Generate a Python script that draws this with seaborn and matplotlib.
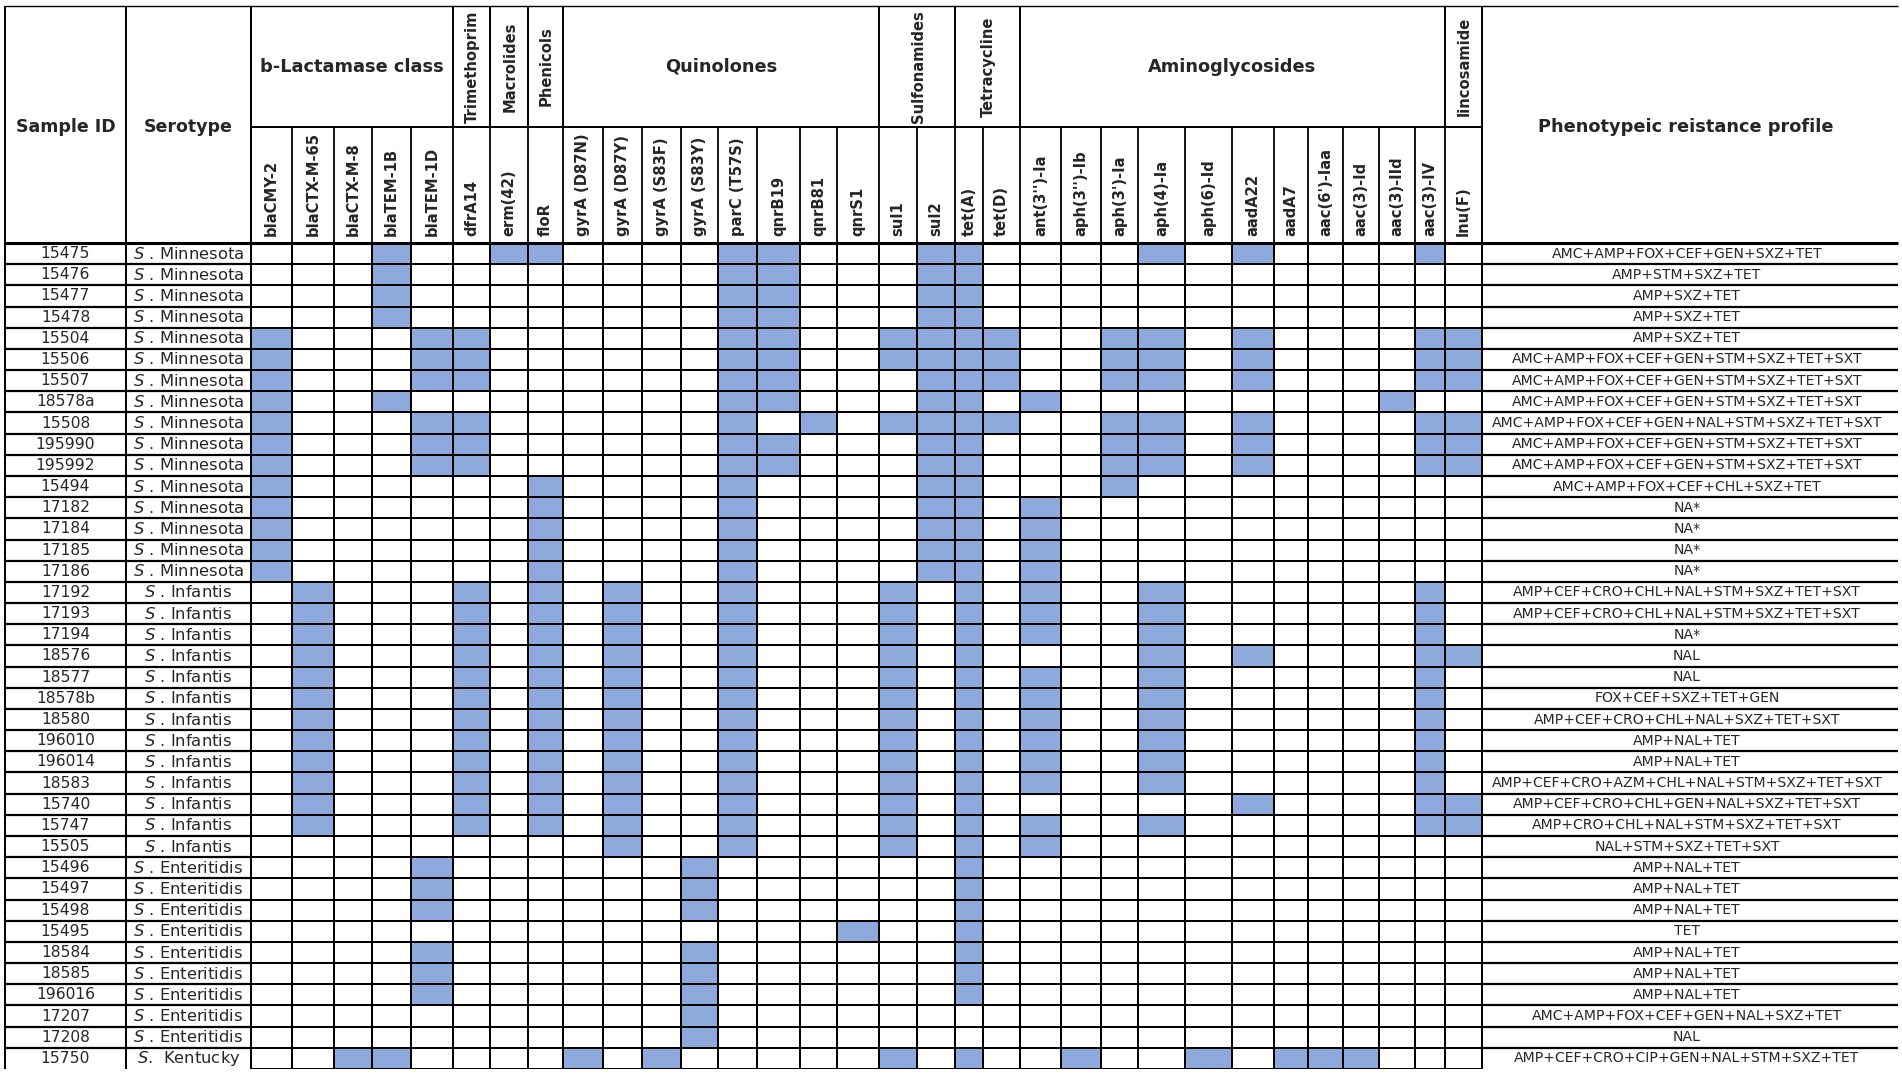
import numpy as np
import pandas as pd
import seaborn as sns
import matplotlib.pyplot as plt
from matplotlib.colors import ListedColormap

sns.set_style("white")
plt.rcParams["font.family"] = ["DejaVu Sans"]

# ---- data ----
sample_ids = ["15475", "15476", "15477", "15478", "15504", "15506", "15507", "18578a",
              "15508", "195990", "195992", "15494", "17182", "17184", "17185", "17186",
              "17192", "17193", "17194", "18576", "18577", "18578b", "18580", "196010",
              "196014", "18583", "15740", "15747", "15505",
              "15496", "15497", "15498", "15495", "18584", "18585", "196016", "17207", "17208",
              "15750"]
serotypes = ["Minnesota"] * 16 + ["Infantis"] * 13 + ["Enteritidis"] * 9 + ["Kentucky"]

genes = ["blaCMY-2", "blaCTX-M-65", "blaCTX-M-8", "blaTEM-1B", "blaTEM-1D", "dfrA14",
         "erm(42)", "floR", "gyrA (D87N)", "gyrA (D87Y)", "gyrA (S83F)", "gyrA (S83Y)",
         "parC (T57S)", "qnrB19", "qnrB81", "qnrS1", "sul1", "sul2", "tet(A)", "tet(D)",
         "ant(3'')-Ia", "aph(3'')-Ib", "aph(3')-Ia", "aph(4)-Ia", "aph(6)-Id", "aadA22",
         "aadA7", "aac(6')-Iaa", "aac(3)-Id", "aac(3)-IId", "aac(3)-IV", "lnu(F)"]

# gene classes: (label, first gene index, last gene index)
gene_classes = [("b-Lactamase class", 0, 4), ("Trimethoprim", 5, 5), ("Macrolides", 6, 6),
                ("Phenicols", 7, 7), ("Quinolones", 8, 15), ("Sulfonamides", 16, 17),
                ("Tetracycline", 18, 19), ("Aminoglycosides", 20, 30), ("lincosamide", 31, 31)]

# genes detected per sample
minn_a = ["blaTEM-1B", "parC (T57S)", "qnrB19", "sul2", "tet(A)"]
minn_b = ["blaCMY-2", "blaTEM-1D", "dfrA14", "parC (T57S)", "qnrB19", "sul1", "sul2", "tet(A)",
          "tet(D)", "aph(3')-Ia", "aph(4)-Ia", "aadA22", "aac(3)-IV", "lnu(F)"]
minn_c = ["blaCMY-2", "floR", "parC (T57S)", "sul2", "tet(A)", "ant(3'')-Ia"]
inf_a = ["blaCTX-M-65", "dfrA14", "floR", "gyrA (D87Y)", "parC (T57S)", "sul1", "tet(A)",
         "ant(3'')-Ia", "aph(4)-Ia", "aac(3)-IV"]
ent_a = ["blaTEM-1D", "gyrA (S83Y)", "tet(A)"]

detected = [
    ["blaTEM-1B", "erm(42)", "floR", "parC (T57S)", "qnrB19", "sul2", "tet(A)", "aph(4)-Ia",
     "aadA22", "aac(3)-IV"],
    minn_a, minn_a, minn_a,
    minn_b, minn_b,
    [g for g in minn_b if g != "sul1"],
    ["blaCMY-2", "blaTEM-1B", "parC (T57S)", "qnrB19", "sul2", "tet(A)", "ant(3'')-Ia", "aac(3)-IId"],
    [g if g != "qnrB19" else "qnrB81" for g in minn_b],
    [g for g in minn_b if g not in ("sul1", "tet(D)")],
    [g for g in minn_b if g not in ("sul1", "tet(D)")],
    ["blaCMY-2", "floR", "parC (T57S)", "sul2", "tet(A)", "aph(3')-Ia"],
    minn_c, minn_c, minn_c, minn_c,
    inf_a, inf_a, inf_a,
    [g for g in inf_a if g != "ant(3'')-Ia"] + ["aadA22", "lnu(F)"],
    inf_a, inf_a, inf_a, inf_a, inf_a, inf_a,
    [g for g in inf_a if g not in ("ant(3'')-Ia", "aph(4)-Ia")] + ["aadA22", "lnu(F)"],
    inf_a + ["lnu(F)"],
    ["gyrA (D87Y)", "parC (T57S)", "sul1", "tet(A)", "ant(3'')-Ia"],
    ent_a, ent_a, ent_a,
    ["qnrS1", "tet(A)"],
    ent_a, ent_a, ent_a,
    ["gyrA (S83Y)"], ["gyrA (S83Y)"],
    ["blaCTX-M-8", "blaTEM-1B", "gyrA (D87N)", "gyrA (S83F)", "sul1", "tet(A)", "aph(3'')-Ib",
     "aph(6)-Id", "aadA7", "aac(6')-Iaa", "aac(3)-Id"],
]

profiles = [
    "AMC+AMP+FOX+CEF+GEN+SXZ+TET", "AMP+STM+SXZ+TET", "AMP+SXZ+TET", "AMP+SXZ+TET", "AMP+SXZ+TET",
    "AMC+AMP+FOX+CEF+GEN+STM+SXZ+TET+SXT", "AMC+AMP+FOX+CEF+GEN+STM+SXZ+TET+SXT",
    "AMC+AMP+FOX+CEF+GEN+STM+SXZ+TET+SXT", "AMC+AMP+FOX+CEF+GEN+NAL+STM+SXZ+TET+SXT",
    "AMC+AMP+FOX+CEF+GEN+STM+SXZ+TET+SXT", "AMC+AMP+FOX+CEF+GEN+STM+SXZ+TET+SXT",
    "AMC+AMP+FOX+CEF+CHL+SXZ+TET", "NA*", "NA*", "NA*", "NA*",
    "AMP+CEF+CRO+CHL+NAL+STM+SXZ+TET+SXT", "AMP+CEF+CRO+CHL+NAL+STM+SXZ+TET+SXT", "NA*",
    "NAL", "NAL", "FOX+CEF+SXZ+TET+GEN", "AMP+CEF+CRO+CHL+NAL+SXZ+TET+SXT", "AMP+NAL+TET",
    "AMP+NAL+TET", "AMP+CEF+CRO+AZM+CHL+NAL+STM+SXZ+TET+SXT",
    "AMP+CEF+CRO+CHL+GEN+NAL+SXZ+TET+SXT", "AMP+CRO+CHL+NAL+STM+SXZ+TET+SXT",
    "NAL+STM+SXZ+TET+SXT", "AMP+NAL+TET", "AMP+NAL+TET", "AMP+NAL+TET", "TET",
    "AMP+NAL+TET", "AMP+NAL+TET", "AMP+NAL+TET", "AMC+AMP+FOX+CEF+GEN+NAL+SXZ+TET", "NAL",
    "AMP+CEF+CRO+CIP+GEN+NAL+STM+SXZ+TET",
]

presence = pd.DataFrame(0, index=sample_ids, columns=genes)
for sid, found in zip(sample_ids, detected):
    presence.loc[sid, found] = 1

# ---- layout (pixels) ----
W, H = 1902, 1074
x_left, x_id, x_sero = 5, 126, 251
x_prof, x_right = 1482, 1898
col_edges = [251, 292, 334, 372, 411, 453, 490, 528, 563, 603, 642, 681, 718, 757, 800, 837,
             879, 917, 955, 983, 1020, 1061, 1101, 1138, 1185, 1232, 1274, 1308, 1343, 1379,
             1415, 1445, 1482]
y_top, y_mid, y_head = 6, 127, 243
y_bot = 1069
row_h = (y_bot - y_head) / len(sample_ids)

edges = np.array(col_edges, dtype=float)
idx = np.arange(len(edges), dtype=float)
edges_ext = np.r_[edges[0] - 1e4, edges, edges[-1] + 1e4]
idx_ext = np.r_[-1e4 / (edges[1] - edges[0]), idx, idx[-1] + 1e4 / (edges[-1] - edges[-2])]


def to_px(v):
    return np.interp(v, idx_ext, edges_ext)


def from_px(p):
    return np.interp(p, edges_ext, idx_ext)


fig = plt.figure(figsize=(W / 100, H / 100), dpi=100)
ax = fig.add_axes([x_sero / W, (H - y_bot) / H, (x_prof - x_sero) / W, (y_bot - y_head) / H])
sns.heatmap(presence, ax=ax, cmap=ListedColormap(["white", "#8EA9DB"]), vmin=0, vmax=1,
            cbar=False, linewidths=1.4, linecolor="black", xticklabels=False, yticklabels=False)
ax.set_xscale("function", functions=(to_px, from_px))
ax.set_xlim(0, len(genes))
ax.set_ylim(len(sample_ids), 0)
ax.set_xticks([])
ax.set_yticks([])
ax.set_xlabel("")
ax.set_ylabel("")

# overlay for table lines and text
ov = fig.add_axes([0, 0, 1, 1], facecolor="none")
ov.set_xlim(0, W)
ov.set_ylim(H, 0)
ov.axis("off")

lc = "black"
ov.hlines(y_top, x_left, x_right, color=lc, lw=1.0)
ov.hlines(y_head, x_left, x_right, color=lc, lw=2.2)
ov.hlines(y_mid, x_sero, x_prof, color=lc, lw=1.4)
ov.vlines([x_left, x_id, x_sero, x_prof], y_top, y_bot, color=lc, lw=1.4)
ov.vlines(col_edges, y_mid, y_head, color=lc, lw=1.3)
class_edges = [col_edges[first] for _, first, _ in gene_classes]
ov.vlines(class_edges, y_top, y_mid, color=lc, lw=1.4)
for k in range(1, len(sample_ids)):
    y = y_head + k * row_h
    ov.hlines(y, x_left, x_sero, color=lc, lw=1.6)
    ov.hlines(y, x_prof, x_right, color=lc, lw=1.6)

# header text
hy = (y_top + y_head) / 2 + 2
ov.text((x_left + x_id) / 2, hy, "Sample ID", ha="center", va="center", fontsize=12.5, fontweight="bold")
ov.text((x_id + x_sero) / 2, hy, "Serotype", ha="center", va="center", fontsize=12.5, fontweight="bold")
ov.text((x_prof + x_right) / 2 - 4, hy, "Phenotypeic reistance profile", ha="center", va="center",
        fontsize=12.8, fontweight="bold")

for label, first, last in gene_classes:
    cx = (col_edges[first] + col_edges[last + 1]) / 2
    if first == last or label in ("Sulfonamides", "Tetracycline"):
        ov.text(cx + 1, (y_top + y_mid) / 2, label, rotation=90, ha="center", va="center",
                fontsize=10.6, fontweight="bold")
    else:
        ov.text(cx, (y_top + y_mid) / 2, label, ha="center", va="center",
                fontsize=12.8, fontweight="bold")

for i, g in enumerate(genes):
    cx = (col_edges[i] + col_edges[i + 1]) / 2
    ov.text(cx, y_head - 7, g, rotation=90, ha="center", va="bottom", fontsize=10.6, fontweight="bold")

# row text
for i, (sid, sero, prof) in enumerate(zip(sample_ids, serotypes, profiles)):
    cy = y_head + (i + 0.5) * row_h
    ov.text((x_left + x_id) / 2, cy, sid, ha="center", va="center", fontsize=11.2)
    sep = ".  " if sero == "Kentucky" else " . "
    ov.text((x_id + x_sero) / 2, cy, r"$\mathit{S}$" + sep + sero, ha="center", va="center", fontsize=11.8)
    ov.text((x_prof + x_right) / 2 - 3, cy, prof, ha="center", va="center", fontsize=10.1)

fig.savefig("out.png", dpi=100)
